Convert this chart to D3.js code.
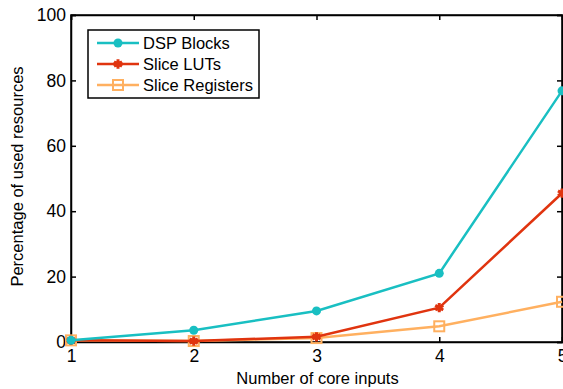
<!DOCTYPE html>
<html>
<head>
<meta charset="utf-8">
<script src="https://cdn.jsdelivr.net/npm/d3@7"></script>
<style>
  body { margin: 0; background: #fff; }
  text { font-family: "Liberation Sans", Arial, sans-serif; }
</style>
</head>
<body>
<div id="chart"></div>
<script>
const inputs = [1, 2, 3, 4, 5];
const dspBlocks = [0.5, 3.6, 9.5, 21, 76.8];
const sliceLUTs = [0.5, 0.3, 1.6, 10.5, 45.5];
const sliceRegisters = [0.5, 0.3, 1.2, 4.8, 12.3];
const yTicks = [0, 20, 40, 60, 80, 100];

const width = 563, height = 389;
const margin = { left: 71, right: 1, top: 15, bottom: 47 };

const svg = d3.select("#chart").append("svg")
    .attr("width", width)
    .attr("height", height);

const x = d3.scaleLinear().domain([1, 5]).range([margin.left, width - margin.right]);
const y = d3.scaleLinear().domain([0, 100]).range([height - margin.bottom, margin.top]);

const series = [
    { name: "DSP Blocks", values: dspBlocks, color: "#19bfc2", marker: "dot" },
    { name: "Slice LUTs", values: sliceLUTs, color: "#e0340f", marker: "star" },
    { name: "Slice Registers", values: sliceRegisters, color: "#ffb060", marker: "square" }
];

// box
const x0 = x(1), x1 = x(5), y0 = y(0), y1 = y(100);
svg.append("rect")
    .attr("x", x0).attr("y", y1)
    .attr("width", x1 - x0).attr("height", y0 - y1)
    .attr("fill", "none").attr("stroke", "#000").attr("stroke-width", 1.5);

// ticks on all four sides, pointing inward
const yAxis = svg.append("g").attr("transform", `translate(${x0},0)`)
    .call(d3.axisLeft(y).tickValues(yTicks).tickSize(-5).tickPadding(5));
const yAxisR = svg.append("g").attr("transform", `translate(${x1},0)`)
    .call(d3.axisRight(y).tickValues(yTicks).tickSize(-5).tickFormat(""));
const xAxis = svg.append("g").attr("transform", `translate(0,${y0})`)
    .call(d3.axisBottom(x).tickValues(inputs).tickSize(-5).tickPadding(4).tickFormat(d3.format("d")));
const xAxisT = svg.append("g").attr("transform", `translate(0,${y1})`)
    .call(d3.axisTop(x).tickValues(inputs).tickSize(-5).tickFormat(""));

[yAxis, yAxisR, xAxis, xAxisT].forEach(g => {
    g.select(".domain").attr("stroke", "#000").attr("stroke-width", 1.5);
    g.selectAll(".tick line").attr("stroke", "#000").attr("stroke-width", 1.5);
    g.selectAll(".tick text").attr("fill", "#000").style("font-size", "17.5px")
        .style("font-family", "'Liberation Sans', Arial, sans-serif");
});
xAxis.selectAll(".tick text").attr("dy", "0.9em");

// axis titles
svg.append("text")
    .attr("x", (x0 + x1) / 2 + 1).attr("y", 384)
    .attr("text-anchor", "middle").style("font-size", "16.5px")
    .text("Number of core inputs");
svg.append("text")
    .attr("transform", `translate(23,${(y0 + y1) / 2 - 2}) rotate(-90)`)
    .attr("text-anchor", "middle").style("font-size", "16.5px")
    .text("Percentage of used resources");

function drawMarker(g, type, color, cx, cy) {
    if (type === "dot") {
        g.append("circle").attr("cx", cx).attr("cy", cy).attr("r", 4.5).attr("fill", color);
    } else if (type === "star") {
        g.append("path").attr("d", d3.symbol(d3.symbolAsterisk, 60)())
            .attr("transform", `translate(${cx},${cy})`)
            .attr("stroke", color).attr("stroke-width", 3).attr("fill", "none");
        g.append("circle").attr("cx", cx).attr("cy", cy).attr("r", 3).attr("fill", color);
    } else {
        g.append("rect").attr("x", cx - 5).attr("y", cy - 5).attr("width", 10).attr("height", 10)
            .attr("fill", "none").attr("stroke", color).attr("stroke-width", 2);
    }
}

const line = d3.line().x((d, i) => x(inputs[i])).y(d => y(d));

// draw in reverse so DSP is on top
series.slice().reverse().forEach(s => {
    const g = svg.append("g");
    g.append("path").datum(s.values)
        .attr("d", line).attr("fill", "none")
        .attr("stroke", s.color).attr("stroke-width", 2.5);
    s.values.forEach((v, i) => drawMarker(g, s.marker, s.color, x(inputs[i]), y(v)));
});

// legend
const legend = svg.append("g");
legend.append("rect")
    .attr("x", 88).attr("y", 30).attr("width", 171).attr("height", 68)
    .attr("fill", "#fff").attr("stroke", "#000").attr("stroke-width", 1.5);
series.forEach((s, i) => {
    const ly = 43 + i * 21;
    legend.append("line").attr("x1", 97).attr("x2", 139).attr("y1", ly).attr("y2", ly)
        .attr("stroke", s.color).attr("stroke-width", 2.5);
    drawMarker(legend, s.marker, s.color, 118, ly);
    legend.append("text").attr("x", 143).attr("y", ly + 6)
        .style("font-size", "16.5px").text(s.name);
});
</script>
</body>
</html>
